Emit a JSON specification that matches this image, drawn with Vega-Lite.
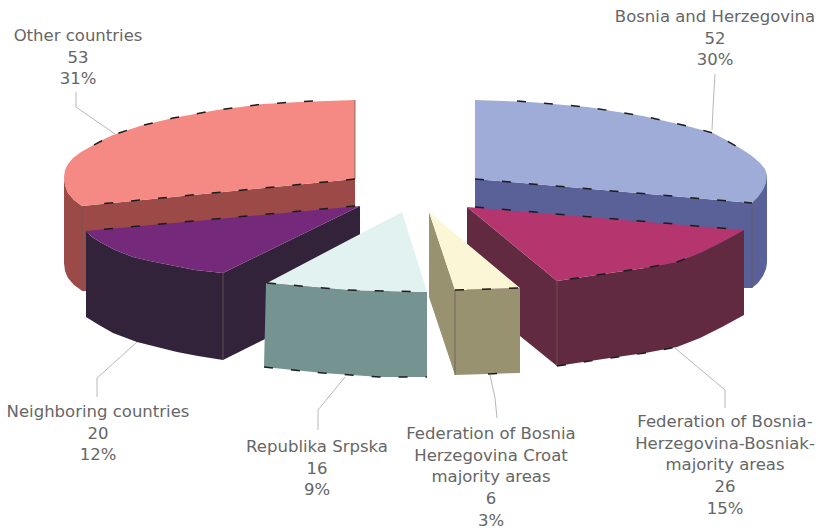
{
  "$schema": "https://vega.github.io/schema/vega-lite/v6.json",
  "width": 819,
  "height": 530,
  "autosize": {"type": "fit", "contains": "padding"},
  "padding": 0,
  "background": "white",
  "view": {"stroke": null},
  "datasets": {
    "faces": [
      {"id":"a1","surface":"otherWall","x":64,"y":177},{"id":"a1","surface":"otherWall","x":65,"y":185},{"id":"a1","surface":"otherWall","x":68,"y":193},{"id":"a1","surface":"otherWall","x":74,"y":200},{"id":"a1","surface":"otherWall","x":82,"y":206},{"id":"a1","surface":"otherWall","x":86,"y":206},{"id":"a1","surface":"otherWall","x":86,"y":291},{"id":"a1","surface":"otherWall","x":81,"y":290},{"id":"a1","surface":"otherWall","x":74,"y":285},{"id":"a1","surface":"otherWall","x":68,"y":278},{"id":"a1","surface":"otherWall","x":65,"y":271},{"id":"a1","surface":"otherWall","x":64,"y":263},
      {"id":"a2","surface":"otherWall","x":82,"y":206},{"id":"a2","surface":"otherWall","x":355,"y":179},{"id":"a2","surface":"otherWall","x":355,"y":208},{"id":"a2","surface":"otherWall","x":86,"y":234},{"id":"a2","surface":"otherWall","x":86,"y":291},{"id":"a2","surface":"otherWall","x":82,"y":291},
      {"id":"a3","surface":"otherTop","x":355,"y":100},{"id":"a3","surface":"otherTop","x":300,"y":102},{"id":"a3","surface":"otherTop","x":263,"y":104},{"id":"a3","surface":"otherTop","x":217,"y":110},{"id":"a3","surface":"otherTop","x":173,"y":118},{"id":"a3","surface":"otherTop","x":140,"y":126},{"id":"a3","surface":"otherTop","x":113,"y":135},{"id":"a3","surface":"otherTop","x":100,"y":141},{"id":"a3","surface":"otherTop","x":90,"y":147},{"id":"a3","surface":"otherTop","x":81,"y":152},{"id":"a3","surface":"otherTop","x":73,"y":158},{"id":"a3","surface":"otherTop","x":68,"y":164},{"id":"a3","surface":"otherTop","x":65,"y":170},{"id":"a3","surface":"otherTop","x":64,"y":177},{"id":"a3","surface":"otherTop","x":65,"y":185},{"id":"a3","surface":"otherTop","x":68,"y":193},{"id":"a3","surface":"otherTop","x":74,"y":200},{"id":"a3","surface":"otherTop","x":82,"y":206},{"id":"a3","surface":"otherTop","x":355,"y":179},

      {"id":"b1","surface":"bosniaWall","x":767,"y":175},{"id":"b1","surface":"bosniaWall","x":752,"y":203},{"id":"b1","surface":"bosniaWall","x":752,"y":288},{"id":"b1","surface":"bosniaWall","x":758,"y":283},{"id":"b1","surface":"bosniaWall","x":763,"y":276},{"id":"b1","surface":"bosniaWall","x":766,"y":269},{"id":"b1","surface":"bosniaWall","x":767,"y":263},
      {"id":"b2","surface":"bosniaWall","x":475,"y":179},{"id":"b2","surface":"bosniaWall","x":752,"y":203},{"id":"b2","surface":"bosniaWall","x":752,"y":288},{"id":"b2","surface":"bosniaWall","x":700,"y":288},{"id":"b2","surface":"bosniaWall","x":475,"y":209},
      {"id":"b3","surface":"bosniaTop","x":475,"y":100},{"id":"b3","surface":"bosniaTop","x":530,"y":102},{"id":"b3","surface":"bosniaTop","x":587,"y":107},{"id":"b3","surface":"bosniaTop","x":643,"y":116},{"id":"b3","surface":"bosniaTop","x":687,"y":126},{"id":"b3","surface":"bosniaTop","x":713,"y":133},{"id":"b3","surface":"bosniaTop","x":728,"y":141},{"id":"b3","surface":"bosniaTop","x":743,"y":150},{"id":"b3","surface":"bosniaTop","x":752,"y":156},{"id":"b3","surface":"bosniaTop","x":760,"y":163},{"id":"b3","surface":"bosniaTop","x":765,"y":169},{"id":"b3","surface":"bosniaTop","x":767,"y":175},{"id":"b3","surface":"bosniaTop","x":766,"y":183},{"id":"b3","surface":"bosniaTop","x":763,"y":190},{"id":"b3","surface":"bosniaTop","x":758,"y":197},{"id":"b3","surface":"bosniaTop","x":752,"y":203},{"id":"b3","surface":"bosniaTop","x":475,"y":179},

      {"id":"c1","surface":"neighborWall","x":223,"y":273},{"id":"c1","surface":"neighborWall","x":360,"y":206},{"id":"c1","surface":"neighborWall","x":360,"y":292},{"id":"c1","surface":"neighborWall","x":223,"y":360},
      {"id":"c2","surface":"neighborWall","x":86,"y":231},{"id":"c2","surface":"neighborWall","x":92,"y":237},{"id":"c2","surface":"neighborWall","x":100,"y":242},{"id":"c2","surface":"neighborWall","x":115,"y":250},{"id":"c2","surface":"neighborWall","x":133,"y":257},{"id":"c2","surface":"neighborWall","x":150,"y":261},{"id":"c2","surface":"neighborWall","x":170,"y":265},{"id":"c2","surface":"neighborWall","x":195,"y":270},{"id":"c2","surface":"neighborWall","x":223,"y":273},{"id":"c2","surface":"neighborWall","x":223,"y":360},{"id":"c2","surface":"neighborWall","x":198,"y":356},{"id":"c2","surface":"neighborWall","x":177,"y":352},{"id":"c2","surface":"neighborWall","x":157,"y":347},{"id":"c2","surface":"neighborWall","x":137,"y":342},{"id":"c2","surface":"neighborWall","x":113,"y":333},{"id":"c2","surface":"neighborWall","x":99,"y":325},{"id":"c2","surface":"neighborWall","x":86,"y":317},
      {"id":"c3","surface":"neighborTop","x":360,"y":206},{"id":"c3","surface":"neighborTop","x":86,"y":231},{"id":"c3","surface":"neighborTop","x":92,"y":237},{"id":"c3","surface":"neighborTop","x":100,"y":242},{"id":"c3","surface":"neighborTop","x":115,"y":250},{"id":"c3","surface":"neighborTop","x":133,"y":257},{"id":"c3","surface":"neighborTop","x":150,"y":261},{"id":"c3","surface":"neighborTop","x":170,"y":265},{"id":"c3","surface":"neighborTop","x":195,"y":270},{"id":"c3","surface":"neighborTop","x":223,"y":273},

      {"id":"d1","surface":"bosniakWall","x":467,"y":207},{"id":"d1","surface":"bosniakWall","x":557,"y":281},{"id":"d1","surface":"bosniakWall","x":557,"y":366},{"id":"d1","surface":"bosniakWall","x":467,"y":293},
      {"id":"d2","surface":"bosniakWall","x":557,"y":281},{"id":"d2","surface":"bosniakWall","x":583,"y":277},{"id":"d2","surface":"bosniakWall","x":610,"y":273},{"id":"d2","surface":"bosniakWall","x":645,"y":268},{"id":"d2","surface":"bosniakWall","x":677,"y":262},{"id":"d2","surface":"bosniakWall","x":700,"y":253},{"id":"d2","surface":"bosniakWall","x":722,"y":242},{"id":"d2","surface":"bosniakWall","x":744,"y":230},{"id":"d2","surface":"bosniakWall","x":744,"y":315},{"id":"d2","surface":"bosniakWall","x":722,"y":327},{"id":"d2","surface":"bosniakWall","x":700,"y":338},{"id":"d2","surface":"bosniakWall","x":677,"y":347},{"id":"d2","surface":"bosniakWall","x":645,"y":353},{"id":"d2","surface":"bosniakWall","x":610,"y":358},{"id":"d2","surface":"bosniakWall","x":583,"y":362},{"id":"d2","surface":"bosniakWall","x":557,"y":366},
      {"id":"d3","surface":"bosniakTop","x":467,"y":207},{"id":"d3","surface":"bosniakTop","x":744,"y":230},{"id":"d3","surface":"bosniakTop","x":722,"y":242},{"id":"d3","surface":"bosniakTop","x":700,"y":253},{"id":"d3","surface":"bosniakTop","x":677,"y":262},{"id":"d3","surface":"bosniakTop","x":645,"y":268},{"id":"d3","surface":"bosniakTop","x":610,"y":273},{"id":"d3","surface":"bosniakTop","x":583,"y":277},{"id":"d3","surface":"bosniakTop","x":557,"y":281},

      {"id":"e1","surface":"srpskaWall","x":266,"y":283},{"id":"e1","surface":"srpskaWall","x":290,"y":285},{"id":"e1","surface":"srpskaWall","x":347,"y":290},{"id":"e1","surface":"srpskaWall","x":427,"y":292},{"id":"e1","surface":"srpskaWall","x":427,"y":377},{"id":"e1","surface":"srpskaWall","x":380,"y":377},{"id":"e1","surface":"srpskaWall","x":323,"y":373},{"id":"e1","surface":"srpskaWall","x":264,"y":367},
      {"id":"e2","surface":"srpskaTop","x":402,"y":212},{"id":"e2","surface":"srpskaTop","x":267,"y":283},{"id":"e2","surface":"srpskaTop","x":290,"y":285},{"id":"e2","surface":"srpskaTop","x":347,"y":290},{"id":"e2","surface":"srpskaTop","x":427,"y":292},

      {"id":"f1","surface":"croatWall","x":429,"y":212},{"id":"f1","surface":"croatWall","x":455,"y":290},{"id":"f1","surface":"croatWall","x":455,"y":375},{"id":"f1","surface":"croatWall","x":429,"y":297},
      {"id":"f2","surface":"croatWall","x":455,"y":290},{"id":"f2","surface":"croatWall","x":520,"y":288},{"id":"f2","surface":"croatWall","x":520,"y":373},{"id":"f2","surface":"croatWall","x":455,"y":375},
      {"id":"f3","surface":"croatTop","x":429,"y":212},{"id":"f3","surface":"croatTop","x":455,"y":290},{"id":"f3","surface":"croatTop","x":520,"y":288}
    ],
    "rims": [
      {"id":"r1","x":313,"y":101},{"id":"r1","x":263,"y":104},{"id":"r1","x":217,"y":110},{"id":"r1","x":173,"y":118},{"id":"r1","x":140,"y":126},{"id":"r1","x":113,"y":135},{"id":"r1","x":90,"y":147},
      {"id":"r2","x":355,"y":179},{"id":"r2","x":90,"y":205},
      {"id":"r3","x":355,"y":206},{"id":"r3","x":86,"y":231},
      {"id":"r4","x":517,"y":101},{"id":"r4","x":587,"y":107},{"id":"r4","x":643,"y":116},{"id":"r4","x":687,"y":126},{"id":"r4","x":713,"y":133},{"id":"r4","x":743,"y":150},
      {"id":"r5","x":475,"y":179},{"id":"r5","x":752,"y":203},
      {"id":"r6","x":475,"y":207},{"id":"r6","x":744,"y":230},
      {"id":"r7","x":570,"y":279},{"id":"r7","x":610,"y":273},{"id":"r7","x":645,"y":268},{"id":"r7","x":677,"y":262},{"id":"r7","x":700,"y":253},
      {"id":"r8","x":267,"y":283},{"id":"r8","x":290,"y":285},{"id":"r8","x":347,"y":290},{"id":"r8","x":427,"y":292},
      {"id":"r9","x":264,"y":367},{"id":"r9","x":323,"y":373},{"id":"r9","x":380,"y":377},{"id":"r9","x":427,"y":377},
      {"id":"r10","x":455,"y":290},{"id":"r10","x":520,"y":288},
      {"id":"r11","x":488,"y":374},{"id":"r11","x":510,"y":373},
      {"id":"r12","x":557,"y":366},{"id":"r12","x":610,"y":358},{"id":"r12","x":645,"y":353},{"id":"r12","x":677,"y":347}
    ],
    "seams": [
      {"id":"s1","x":82,"y":206},{"id":"s1","x":82,"y":291},
      {"id":"s2","x":223,"y":273},{"id":"s2","x":223,"y":360},
      {"id":"s3","x":455,"y":290},{"id":"s3","x":455,"y":375},
      {"id":"s4","x":557,"y":281},{"id":"s4","x":557,"y":366},
      {"id":"s5","x":752,"y":203},{"id":"s5","x":752,"y":288},
      {"id":"s6","x":355,"y":100},{"id":"s6","x":355,"y":179}
    ],
    "leaders": [
      {"id":"l1","x":76,"y":92},{"id":"l1","x":76,"y":107},{"id":"l1","x":115,"y":134},
      {"id":"l2","x":715,"y":74},{"id":"l2","x":713,"y":108},{"id":"l2","x":712,"y":130},
      {"id":"l3","x":97,"y":397},{"id":"l3","x":97,"y":378},{"id":"l3","x":137,"y":342},
      {"id":"l4","x":318,"y":430},{"id":"l4","x":318,"y":410},{"id":"l4","x":345,"y":377},
      {"id":"l5","x":497,"y":418},{"id":"l5","x":495,"y":398},{"id":"l5","x":490,"y":375},
      {"id":"l6","x":725,"y":408},{"id":"l6","x":725,"y":390},{"id":"l6","x":675,"y":348}
    ],
    "labels": [
      {"text":"Other countries\n53\n31%","count":53,"x":78,"y":28},
      {"text":"Bosnia and Herzegovina\n52\n30%","count":52,"x":715,"y":9},
      {"text":"Neighboring countries\n20\n12%","count":20,"x":98,"y":404},
      {"text":"Republika Srpska\n16\n9%","count":16,"x":317,"y":439},
      {"text":"Federation of Bosnia\nHerzegovina Croat\nmajority areas\n6\n3%","count":6,"x":491,"y":426},
      {"text":"Federation of Bosnia-\nHerzegovina-Bosniak-\nmajority areas\n26\n15%","count":26,"x":725,"y":414}
    ]
  },
  "layer": [
    {
      "data": {"name": "faces"},
      "mark": {"type": "line", "filled": true, "strokeWidth": 0},
      "encoding": {
        "x": {"field": "x", "type": "quantitative", "scale": {"domain": [0, 819], "nice": false, "zero": false}, "axis": null},
        "y": {"field": "y", "type": "quantitative", "scale": {"domain": [530, 0], "nice": false, "zero": false}, "axis": null},
        "detail": {"field": "id"},
        "order": {"field": "rowOrder"},
        "color": {
          "field": "surface",
          "type": "nominal",
          "legend": null,
          "scale": {
            "domain": ["otherWall","otherTop","bosniaWall","bosniaTop","neighborWall","neighborTop","bosniakWall","bosniakTop","srpskaWall","srpskaTop","croatWall","croatTop"],
            "range": ["#9b4a48","#f58a85","#5a6198","#9facd8","#32233a","#75297a","#612a40","#b5356f","#759391","#e2f2f0","#989270","#fbf7d6"]
          }
        }
      },
      "transform": [{"window": [{"op": "row_number", "as": "rowOrder"}]}]
    },
    {
      "data": {"name": "seams"},
      "mark": {"type": "line", "stroke": "#6a5a58", "strokeWidth": 1, "opacity": 0.8},
      "encoding": {
        "x": {"field": "x", "type": "quantitative"},
        "y": {"field": "y", "type": "quantitative"},
        "detail": {"field": "id"}
      }
    },
    {
      "data": {"name": "rims"},
      "mark": {"type": "line", "stroke": "#1c1c1c", "strokeWidth": 1.5, "strokeDash": [9, 18]},
      "encoding": {
        "x": {"field": "x", "type": "quantitative"},
        "y": {"field": "y", "type": "quantitative"},
        "detail": {"field": "id"},
        "order": {"field": "rowOrder"}
      },
      "transform": [{"window": [{"op": "row_number", "as": "rowOrder"}]}]
    },
    {
      "data": {"name": "leaders"},
      "mark": {"type": "line", "stroke": "#b8b8b8", "strokeWidth": 1},
      "encoding": {
        "x": {"field": "x", "type": "quantitative"},
        "y": {"field": "y", "type": "quantitative"},
        "detail": {"field": "id"},
        "order": {"field": "rowOrder"}
      },
      "transform": [{"window": [{"op": "row_number", "as": "rowOrder"}]}]
    },
    {
      "data": {"name": "labels"},
      "mark": {"type": "text", "align": "center", "baseline": "top", "lineBreak": "\n", "lineHeight": 21.7, "font": "DejaVu Sans", "fontSize": 16.5, "fill": "#666666"},
      "encoding": {
        "x": {"field": "x", "type": "quantitative"},
        "y": {"field": "y", "type": "quantitative"},
        "text": {"field": "text"}
      }
    }
  ]
}
